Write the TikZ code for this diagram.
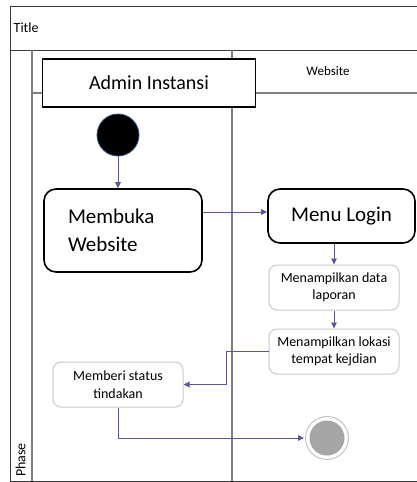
\documentclass[tikz,border=0pt]{standalone}
\usepackage{fontspec}
\setmainfont{Carlito}
\usetikzlibrary{arrows.meta}

\definecolor{framecol}{HTML}{3A3A3A}
\definecolor{lanecol}{HTML}{7F7F7F}
\definecolor{flowcol}{HTML}{5E5592}
\definecolor{softedge}{HTML}{C9C9C9}
\definecolor{endfill}{HTML}{A6A6A6}
\definecolor{ringcol}{HTML}{C4C4C4}
\definecolor{startedge}{HTML}{2F4E7A}

\tikzset{
  poolline/.style={draw=framecol, line width=1pt},
  laneline/.style={draw=lanecol, line width=1.2pt},
  bigact/.style={draw=black, line width=1.6pt, rounded corners=12pt, fill=white,
    font=\fontsize{21}{27.7}\selectfont},
  smallact/.style={draw=softedge, line width=1pt, rounded corners=8pt, fill=white,
    minimum width=130pt, minimum height=45pt, align=center, inner sep=0pt,
    font=\fontsize{14}{17.5}\selectfont},
  flow/.style={draw=flowcol, line width=1pt, -{Triangle[length=6pt,width=5.5pt]}},
}

\begin{document}
\begin{tikzpicture}[x=1pt, y=-1pt]
\useasboundingbox (0,0) rectangle (416,482);

% pool frame, title band and lanes
\draw[poolline] (10.5,6) rectangle (430,481);
\draw[poolline] (10.5,50) -- (430,50);
\draw[laneline] (32,50) -- (32,481);
\draw[laneline] (232,50) -- (232,481);
\draw[laneline] (32,93) -- (430,93);

\node[anchor=west, inner sep=0pt, font=\fontsize{14}{17}\selectfont] (title) at (13.5,28) {Title};
\node[inner sep=0pt, font=\fontsize{13}{16}\selectfont] (web) at (328,71) {Website};
\node[rotate=90, inner sep=0pt, font=\fontsize{14}{17}\selectfont] (phase) at (20.5,460) {Phase};

% lane header for the admin side
\node[draw=black, line width=1.6pt, fill=white, minimum width=213pt, minimum height=48pt,
  inner sep=0pt, font=\fontsize{20}{24}\selectfont] (admin) at (149,82.7) {Admin Instansi};

% start and end states
\node[circle, fill=black, draw=startedge, line width=0.8pt, minimum size=42pt, inner sep=0pt]
  (start) at (118,135) {};
\node[circle, draw=ringcol, line width=1pt, fill=white, minimum size=43pt, inner sep=0pt]
  (finish) at (327,438) {};
\fill[endfill] (finish.center) circle (17.5pt);

% activities
\node[bigact, minimum height=83pt, inner xsep=24pt, text width=110pt, align=left]
  (membuka) at (123,230.5) {Membuka\\Website};
\node[bigact, minimum width=147pt, minimum height=54pt, inner sep=0pt]
  (login) at (341.5,216) {Menu Login};
\node[smallact] (data) at (334,287.5) {Menampilkan data\\laporan};
\node[smallact] (lokasi) at (334,351.5) {Menampilkan lokasi\\tempat kejdian};
\node[smallact] (status) at (118,384.5) {Memberi status\\tindakan};

% control flow
\coordinate (loginin) at ([yshift=4pt]login.west);
\draw[flow] (start.south) -- (start.south |- membuka.north);
\draw[flow] (membuka.east |- loginin) -- (loginin);
\draw[flow] (data.north |- login.south) -- (data.north);
\draw[flow] (data.south) -- (lokasi.north);
\draw[flow] (lokasi.west) -- ++(-42,0) |- (status.east);
\draw[flow] (status.south) |- ([xshift=-1pt]finish.west);
\end{tikzpicture}
\end{document}
